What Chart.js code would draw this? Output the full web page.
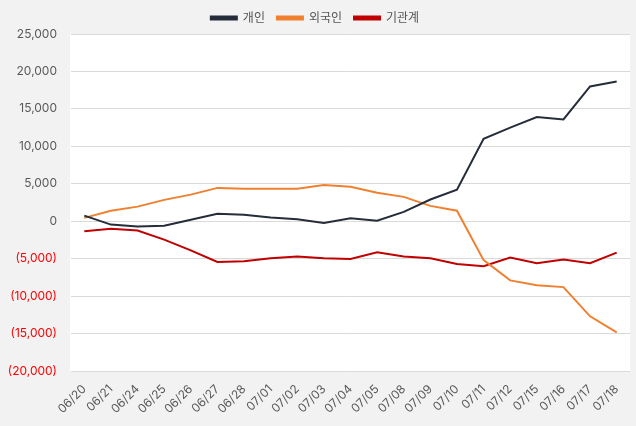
<!DOCTYPE html>
<html>
<head>
<meta charset="utf-8">
<script src="https://cdn.jsdelivr.net/npm/chart.js@4/dist/chart.umd.min.js"></script>
<style>
    html, body { margin: 0; padding: 0; background: #f2f2f2; }
    #wrap { width: 636px; height: 426px; position: relative; }
</style>
</head>
<body>
<div id="wrap"><canvas id="flowChart"></canvas></div>
<script>
const labels = ["06/20", "06/21", "06/24", "06/25", "06/26", "06/27", "06/28", "07/01", "07/02", "07/03", "07/04",
    "07/05", "07/08", "07/09", "07/10", "07/11", "07/12", "07/15", "07/16", "07/17", "07/18"];

const individual = [750, -450, -700, -600, 200, 1000, 870, 500, 250, -220, 380, 80, 1250, 2900, 4200,
    11000, 12500, 13900, 13600, 18000, 18650];
const foreign = [450, 1400, 1950, 2850, 3550, 4450, 4350, 4350, 4350, 4850, 4600, 3800, 3250, 2050, 1400,
    -5200, -7900, -8550, -8800, -12700, -14850];
const institution = [-1350, -1000, -1250, -2450, -3900, -5450, -5350, -4950, -4700, -4950, -5050, -4150,
    -4700, -4950, -5700, -6000, -4850, -5600, -5100, -5600, -4200];

const yTicks = { min: -20000, max: 25000, step: 5000 };

function formatTick(value) {
    const abs = Math.abs(value).toLocaleString("en-US");
    return value < 0 ? `(${abs})` : abs;
}

const chartAreaBg = {
    id: "chartAreaBg",
    beforeDraw(chart) {
        const { ctx, chartArea } = chart;
        ctx.save();
        ctx.fillStyle = "#ffffff";
        ctx.fillRect(chartArea.left - 1, chartArea.top, chartArea.right - chartArea.left + 1, chartArea.bottom - chartArea.top + 1);
        ctx.restore();
    }
};

Chart.defaults.font.family = "Inter, 'Noto Sans CJK KR', sans-serif";

new Chart(document.getElementById("flowChart"), {
    type: "line",
    data: {
        labels,
        datasets: [
            { label: "개인", data: individual, borderColor: "#252d3a", backgroundColor: "#252d3a" },
            { label: "외국인", data: foreign, borderColor: "#f0802f", backgroundColor: "#f0802f" },
            { label: "기관계", data: institution, borderColor: "#c00000", backgroundColor: "#c00000" }
        ]
    },
    options: {
        responsive: true,
        maintainAspectRatio: false,
        animation: false,
        elements: {
            line: { borderWidth: 2, tension: 0 },
            point: { radius: 0 }
        },
        layout: { padding: { top: 0, right: 6, bottom: 0, left: 0 } },
        plugins: {
            legend: {
                position: "top",
                labels: {
                    boxWidth: 26,
                    boxHeight: 3,
                    padding: 12,
                    color: "#555555",
                    font: { size: 12 }
                }
            },
            tooltip: { enabled: false }
        },
        scales: {
            x: {
                offset: true,
                grid: { display: false },
                border: { display: false },
                ticks: {
                    minRotation: 45,
                    maxRotation: 45,
                    autoSkip: false,
                    color: "#595959",
                    font: { size: 12 }
                },
                afterFit: (scale) => { scale.height = 55; }
            },
            y: {
                min: yTicks.min,
                max: yTicks.max,
                grid: { color: "#d9d9d9", drawTicks: false },
                border: { display: false },
                ticks: {
                    stepSize: yTicks.step,
                    padding: 14,
                    color: (ctx) => (ctx.tick.value < 0 ? "#ff0000" : "#595959"),
                    font: { size: 12 },
                    callback: (value) => formatTick(value)
                },
                afterFit: (scale) => { scale.width = 71; }
            }
        }
    },
    plugins: [chartAreaBg]
});
</script>
</body>
</html>
